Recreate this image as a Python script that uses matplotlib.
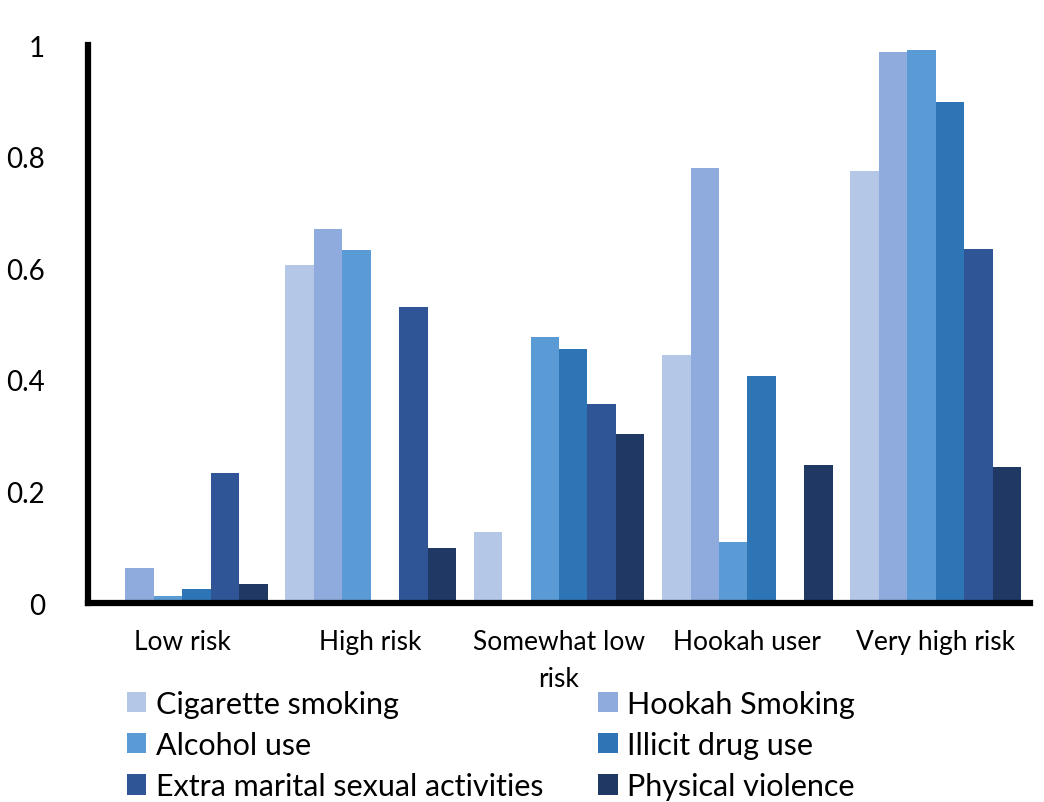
import matplotlib.pyplot as plt
import numpy as np

plt.rcParams['font.family'] = ['Lato', 'DejaVu Sans']

# === Datos ===
categorias = ["Low risk", "High risk", "Somewhat low\nrisk", "Hookah user", "Very high risk"]
series = ["Cigarette smoking", "Hookah Smoking", "Alcohol use",
          "Illicit drug use", "Extra marital sexual activities", "Physical violence"]
cigarette = [0.006, 0.605, 0.127, 0.445, 0.774]
hookah = [0.063, 0.671, 0.006, 0.779, 0.987]
alcohol = [0.013, 0.632, 0.476, 0.110, 0.991]
illicit = [0.025, 0.0, 0.456, 0.406, 0.898]
extra_marital = [0.233, 0.530, 0.357, 0.004, 0.634]
violence = [0.034, 0.099, 0.303, 0.248, 0.244]
colores = ["#B4C7E7", "#8FAADC", "#5B9BD5", "#2E75B6", "#2F5597", "#203864"]

valores = [cigarette, hookah, alcohol, illicit, extra_marital, violence]

# === Gráfica ===
fig = plt.figure(figsize=(10.44, 8.03), dpi=100)
ax = fig.add_axes([0.0843, 0.2478, 0.9023, 0.6949])

x = np.arange(len(categorias))
ancho = 0.151
barras = []
for i, (serie, vals, c) in enumerate(zip(series, valores, colores)):
    b = ax.bar(x + (i - 2.5) * ancho, vals, ancho, color=c, label=serie)
    barras.append(b)

ax.set_xlim(-0.5, len(categorias) - 0.5)
ax.set_ylim(0, 1)
ax.set_yticks([0, 0.2, 0.4, 0.6, 0.8, 1])
ax.set_yticklabels(["0", "0.2", "0.4", "0.6", "0.8", "1"])
ax.set_xticks(x)
ax.set_xticklabels(categorias, linespacing=1.6)
ax.tick_params(axis='both', length=0, labelsize=19)
ax.tick_params(axis='y', labelsize=20, pad=31)
ax.tick_params(axis='x', pad=19)

for s in ['top', 'right']:
    ax.spines[s].set_visible(False)
for s in ['left', 'bottom']:
    ax.spines[s].set_linewidth(4.5)
    ax.spines[s].set_color('black')

# leyenda ordenada por filas (matplotlib llena por columnas)
orden = [0, 2, 4, 1, 3, 5]
ax.legend([barras[k] for k in orden], [series[k] for k in orden],
          ncol=2, loc='upper left', bbox_to_anchor=(0.041, -0.155),
          frameon=False, fontsize=22, handlelength=0.65, handleheight=0.65,
          handletextpad=0.3, columnspacing=1.8, labelspacing=0.44,
          borderaxespad=0, borderpad=0)

plt.savefig("out.png", dpi=100)
